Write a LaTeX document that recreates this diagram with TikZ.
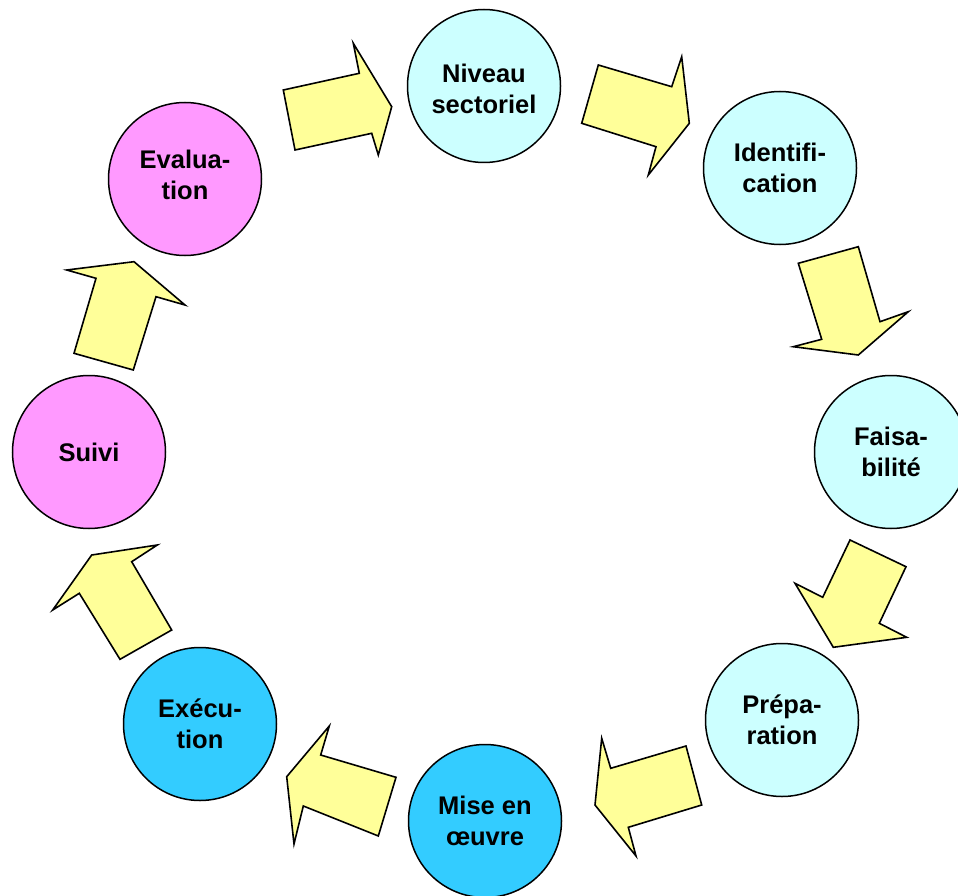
\documentclass[tikz,border=0pt]{standalone}
\usepackage{fontspec}
\setmainfont{Liberation Sans}
\definecolor{lightcy}{HTML}{CCFFFF}
\definecolor{midcy}{HTML}{33CCFF}
\definecolor{pinkc}{HTML}{FF99FF}
\definecolor{yel}{HTML}{FFFF99}
\tikzset{
  stage/.style={circle, draw=black, line width=1.5pt, minimum size=153pt, inner sep=0pt},
  lbl/.style={align=center, inner sep=0pt, font=\fontsize{25.5}{31}\selectfont\bfseries},
  blockarrow/.style={draw=black, fill=yel, line width=1.6pt, line join=miter},
}
\begin{document}
\begin{tikzpicture}[x=1pt,y=-1pt]
\useasboundingbox (0,0) rectangle (958,896);
\clip (0,0) rectangle (958,896);
% circles
\node[stage, fill=lightcy] (niv) at (484,86) {};
\node[stage, fill=lightcy] (ide) at (780,168) {};
\node[stage, fill=lightcy] (fai) at (891,452) {};
\node[stage, fill=lightcy] (pre) at (782,720) {};
\node[stage, fill=midcy] (mis) at (485,821) {};
\node[stage, fill=midcy] (exe) at (200,724) {};
\node[stage, fill=pinkc] (sui) at (89,452) {};
\node[stage, fill=pinkc] (eva) at (185,179) {};
% labels
\node[lbl] (nivt) at ([yshift=-3]niv.center) {Niveau\\sectoriel};
\node[lbl] (idet) at (ide.center) {Identifi-\\cation};
\node[lbl] (fait) at (fai.center) {Faisa-\\bilité};
\node[lbl] (pret) at (pre.center) {Prépa-\\ration};
\node[lbl] (mist) at (mis.center) {Mise en\\œuvre};
\node[lbl] (exet) at (exe.center) {Exécu-\\tion};
\node[lbl] (suit) at (sui.center) {Suivi};
\node[lbl] (evat) at ([yshift=4]eva.center) {Evalua-\\tion};
% block arrows
\draw[blockarrow] (283.3,90) -- (359.3,73.3) -- (353.3,43.3) -- (391.7,106.7) -- (378.3,155) -- (371.7,133.3) -- (295,150) -- cycle;
\draw[blockarrow] (598.3,65) -- (671.7,86.7) -- (681.7,56.7) -- (689.3,123.3) -- (648.3,175) -- (656,146.7) -- (581.7,123.3) -- cycle;
\draw[blockarrow] (798.3,263.3) -- (858.3,246.7) -- (880,321.7) -- (908.3,311.7) -- (858.3,355) -- (793.3,346.7) -- (821.7,339.3) -- cycle;
\draw[blockarrow] (850,540) -- (906,566.7) -- (879.3,623.3) -- (906.7,637.3) -- (833.3,647.3) -- (795,583.3) -- (822.7,597.3) -- cycle;
\draw[blockarrow] (686,746) -- (701.7,805) -- (628.3,827.3) -- (636,856) -- (595,805) -- (601.7,738.3) -- (610.7,768.3) -- cycle;
\draw[blockarrow] (396,777.3) -- (378.3,836) -- (303.3,806) -- (294,844) -- (286.7,776.7) -- (329.3,726) -- (320.7,755) -- cycle;
\draw[blockarrow] (120,659.3) -- (171.7,630) -- (131.7,561.7) -- (157.3,545) -- (91.7,555) -- (52.7,610) -- (79.3,593.3) -- cycle;
\draw[blockarrow] (74,353.3) -- (133.3,370) -- (156,296.7) -- (185,305) -- (134,261.7) -- (66.7,270) -- (96,278.3) -- cycle;
\end{tikzpicture}
\end{document}
